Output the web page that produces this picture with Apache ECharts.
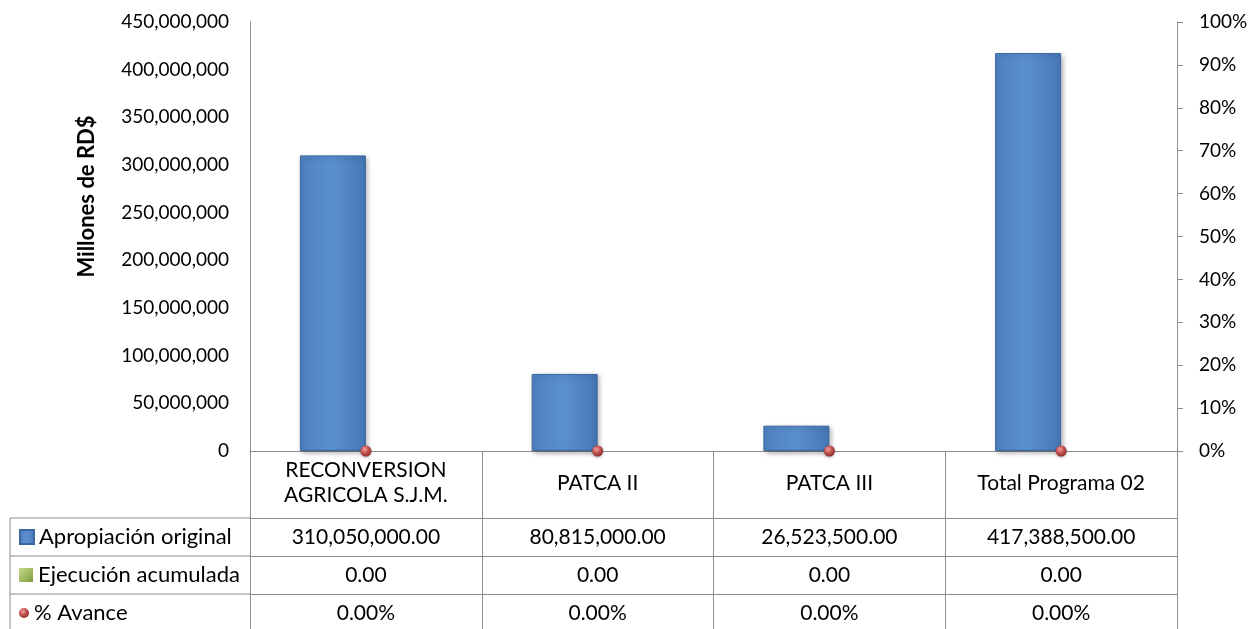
<!DOCTYPE html>
<html><head><meta charset="utf-8">
<script src="https://cdn.jsdelivr.net/npm/echarts@6/dist/echarts.min.js"></script>
<style>html,body{margin:0;padding:0;background:#fff}#c{width:1259px;height:629px}</style>
</head><body><div id="c"></div>
<script>
const categories = ['RECONVERSION\nAGRICOLA S.J.M.', 'PATCA II', 'PATCA III', 'Total Programa 02'];
const apropiacion = [310050000, 80815000, 26523500, 417388500];
const ejecucion = [0, 0, 0, 0];
const avance = [0, 0, 0, 0];
const seriesNames = ['Apropiación original', 'Ejecución acumulada', '% Avance'];
const yTitle = 'Millones de RD$';

const FONT = 'Lato';
const FS_AXIS = 19;
const FS_TABLE = 21;
const FS_LEGEND = 22;
const LINE = '#8c8c8c';
const fmtNum = v => v.toLocaleString('en-US', {minimumFractionDigits: 2, maximumFractionDigits: 2});
const fmtPct = v => (v * 100).toFixed(2) + '%';

const gridTop = 22, gridBottomY = 451, labelRowH = 67, rowH = 38;
const chart = echarts.init(document.getElementById('c'));

function tableAxis(idx, values, fmt) {
  return {
    type: 'category', data: categories, position: 'bottom', gridIndex: 0,
    offset: labelRowH + idx * rowH,
    axisLine: {show: true, onZero: false, lineStyle: {color: LINE, width: 1}},
    axisTick: {show: true, length: rowH, interval: 0, lineStyle: {color: LINE}},
    axisLabel: {
      interval: 0, margin: rowH / 2, verticalAlign: 'middle',
      formatter: (v, i) => fmt(values[i]),
      fontFamily: FONT, fontSize: FS_TABLE, color: '#000'
    }
  };
}

const blueBar = {
  type: 'linear', x: 0, y: 0, x2: 1, y2: 0,
  colorStops: [{offset: 0, color: '#4f82c3'}, {offset: 0.5, color: '#5a8fd0'}, {offset: 1, color: '#4676b5'}]
};
const greenFill = {
  type: 'linear', x: 0, y: 0, x2: 1, y2: 1,
  colorStops: [{offset: 0, color: '#c4dc8c'}, {offset: 1, color: '#7f9c3e'}]
};
const redDot = {
  type: 'radial', x: 0.4, y: 0.35, r: 0.7,
  colorStops: [{offset: 0, color: '#f4a09e'}, {offset: 0.5, color: '#c0504d'}, {offset: 1, color: '#8a2a28'}]
};

const rowCenters = [537, 575, 613];
const legends = seriesNames.map((n, i) => ({
  data: [{name: n, icon: i === 2 ? 'circle' : 'rect'}],
  left: 14, top: rowCenters[i] - 12 - 5, orient: 'vertical',
  itemWidth: i === 2 ? 10 : 14, itemHeight: i === 2 ? 10 : 14, itemGap: 0,
  selectedMode: false,
  textStyle: {fontFamily: FONT, fontSize: FS_LEGEND, color: '#000', lineHeight: 24}
}));

chart.setOption({
  animation: false,
  textStyle: {fontFamily: FONT},
  legend: legends,
  grid: {left: 250, right: 1259 - 1177, top: gridTop, bottom: 629 - gridBottomY, containLabel: false},
  xAxis: [
    {
      type: 'category', data: categories, position: 'bottom',
      axisLine: {show: true, onZero: false, lineStyle: {color: LINE, width: 1}},
      axisTick: {show: true, length: labelRowH, interval: 0, lineStyle: {color: LINE}},
      axisLabel: {interval: 0, margin: 32, verticalAlign: 'middle', align: 'center',
        fontFamily: FONT, fontSize: FS_TABLE, color: '#000', lineHeight: 25}
    },
    tableAxis(0, apropiacion, fmtNum),
    tableAxis(1, ejecucion, fmtNum),
    tableAxis(2, avance, fmtPct)
  ],
  yAxis: [
    {
      type: 'value', min: 0, max: 450000000, interval: 50000000,
      name: yTitle, nameLocation: 'middle', nameGap: 152, nameRotate: 90,
      nameTextStyle: {fontFamily: FONT, fontSize: 22, fontWeight: 'bold', color: '#000', padding: [0, 0, 0, 80]},
      axisLine: {show: true, lineStyle: {color: LINE}},
      axisTick: {show: false},
      splitLine: {show: false},
      axisLabel: {margin: 21, fontFamily: FONT, fontSize: FS_AXIS, color: '#000',
        formatter: v => v.toLocaleString('en-US')}
    },
    {
      type: 'value', min: 0, max: 1, interval: 0.1, position: 'right',
      axisLine: {show: true, lineStyle: {color: LINE}},
      axisTick: {show: true, length: 6, lineStyle: {color: LINE}},
      splitLine: {show: false},
      axisLabel: {margin: 22, align: 'left', fontFamily: FONT, fontSize: FS_AXIS, color: '#000',
        formatter: v => Math.round(v * 100) + '%'}
    }
  ],
  series: [
    {
      name: seriesNames[0], type: 'bar', data: apropiacion, barWidth: 66, barGap: '0%',
      itemStyle: {color: blueBar, borderColor: '#3b67a0', borderWidth: 1,
        shadowBlur: 5, shadowColor: 'rgba(0,0,0,0.3)', shadowOffsetX: 2, shadowOffsetY: 2}
    },
    {
      name: seriesNames[1], type: 'bar', data: ejecucion, barWidth: 66,
      itemStyle: {color: greenFill, borderWidth: 0}
    },
    {
      name: seriesNames[2], type: 'line', yAxisIndex: 1, data: avance,
      symbol: 'circle', symbolSize: 11, showSymbol: true,
      lineStyle: {width: 0, opacity: 0},
      itemStyle: {color: redDot, borderWidth: 0, shadowBlur: 3, shadowColor: 'rgba(0,0,0,0.3)', shadowOffsetY: 1},
      z: 5
    }
  ],
  graphic: [
    {type: 'line', shape: {x1: 10, y1: 518, x2: 250, y2: 518}, style: {stroke: LINE, lineWidth: 1}},
    {type: 'line', shape: {x1: 10, y1: 556, x2: 250, y2: 556}, style: {stroke: LINE, lineWidth: 1}},
    {type: 'line', shape: {x1: 10, y1: 594, x2: 250, y2: 594}, style: {stroke: LINE, lineWidth: 1}},
    {type: 'line', shape: {x1: 10, y1: 518, x2: 10, y2: 629}, style: {stroke: LINE, lineWidth: 1}}
  ]
});
</script></body></html>
